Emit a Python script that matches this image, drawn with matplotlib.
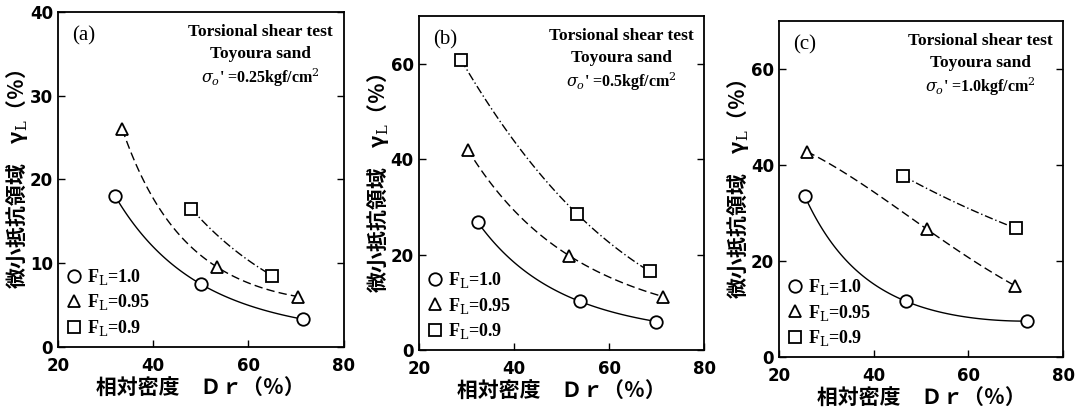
import numpy as np
import matplotlib.pyplot as plt
from matplotlib.lines import Line2D

plt.rcParams['font.family'] = ['Noto Sans CJK JP', 'DejaVu Sans']
plt.rcParams['mathtext.fontset'] = 'dejavuserif'

# panel data: (Dr, gamma_L) for F_L = 1.0, 0.95, 0.9
a_c_x = [32.0, 50.0, 71.5]
a_c_y = [18.0, 7.5, 3.3]
a_t_x = [33.5, 53.5, 70.5]
a_t_y = [26.0, 9.5, 6.0]
a_s_x = [48.0, 65.0]
a_s_y = [16.5, 8.5]

b_c_x = [32.4, 53.9, 69.9]
b_c_y = [26.8, 10.2, 6.0]
b_t_x = [30.3, 51.6, 71.4]
b_t_y = [42.0, 19.8, 11.2]
b_s_x = [28.9, 53.2, 68.5]
b_s_y = [60.8, 28.6, 16.5]

c_c_x = [25.4, 46.9, 72.4]
c_c_y = [33.6, 11.6, 7.5]
c_t_x = [25.9, 51.3, 69.8]
c_t_y = [42.8, 26.6, 14.9]
c_s_x = [46.1, 70.1]
c_s_y = [37.8, 26.8]

panels = [
    ('(a)', "0.25", 40, [0, 10, 20, 30, 40],
     [(a_c_x, a_c_y), (a_t_x, a_t_y), (a_s_x, a_s_y)],
     [0.0536, 0.156, 0.264, 0.815]),
    ('(b)', "0.5", 70, [0, 20, 40, 60],
     [(b_c_x, b_c_y), (b_t_x, b_t_y), (b_s_x, b_s_y)],
     [0.387, 0.148, 0.264, 0.813]),
    ('(c)', "1.0", 70, [0, 20, 40, 60],
     [(c_c_x, c_c_y), (c_t_x, c_t_y), (c_s_x, c_s_y)],
     [0.720, 0.131, 0.2625, 0.818]),
]

markers = ['o', '^', 's']
styles = ['-', (0, (6, 3)), (0, (6, 2, 1, 2))]
labels = ['F$_\\mathrm{L}$=1.0', 'F$_\\mathrm{L}$=0.95', 'F$_\\mathrm{L}$=0.9']
serif = ['Liberation Serif', 'DejaVu Serif']

fig = plt.figure(figsize=(10.82, 4.11), dpi=100)

for tag, sig, ymax, yticks, series, pos in panels:
    ax = fig.add_axes(pos)
    for (xs, ys), m, ls in zip(series, markers, styles):
        # smooth fit drawn in log space, so it flattens without dipping
        deg = min(2, len(xs) - 1)
        coef = np.polyfit(xs, np.log(ys), deg)
        xx = np.linspace(xs[0], xs[-1], 100)
        ax.plot(xx, np.exp(np.polyval(coef, xx)), color='black', lw=1.0,
                ls=ls)
        ax.plot(xs, ys, ls='none', marker=m, ms=9, mfc='white',
                mec='black', mew=1.3)
    ax.set_xlim(20, 80)
    ax.set_ylim(0, ymax)
    ax.set_xticks([20, 40, 60, 80])
    ax.set_yticks(yticks)
    ax.tick_params(direction='in', right=True, length=5, labelsize=12,
                   width=1)
    ax.tick_params(axis='x', pad=7)
    for t in ax.get_xticklabels() + ax.get_yticklabels():
        t.set_fontweight('bold')
        t.set_family(['DejaVu Sans'])
    for sp in ax.spines.values():
        sp.set_linewidth(1.3)

    ax.set_xlabel('相対密度　Ｄｒ（％）', fontsize=15, fontweight='bold',
                  labelpad=2)
    ax.set_ylabel('微小抵抗領域　γ$_\\mathrm{L}$（％）', fontsize=15,
                  fontweight='bold', labelpad=0)

    ax.text(0.05, 0.93, tag, transform=ax.transAxes, fontsize=15,
            family=serif, va='center')
    ax.text(0.71, 0.94, 'Torsional shear test', transform=ax.transAxes,
            fontsize=12.5, fontweight='bold', family=serif, ha='center',
            va='center')
    ax.text(0.71, 0.875, 'Toyoura sand', transform=ax.transAxes,
            fontsize=12.5, fontweight='bold', family=serif, ha='center',
            va='center')
    ax.text(0.71, 0.805, "$\\sigma_o$' =" + sig + 'kgf/cm$^2$',
            transform=ax.transAxes, fontsize=11.5, fontweight='bold',
            family=serif, ha='center', va='center')

    handles = [Line2D([], [], ls='none', marker=m, ms=9, mfc='white',
                      mec='black', mew=1.3) for m in markers]
    ax.legend(handles, labels, loc='lower left', frameon=False,
              handlelength=0.8, handletextpad=0.3, labelspacing=0.3,
              borderaxespad=0.1, prop={'family': serif, 'size': 13,
                                       'weight': 'bold'})

fig.savefig('out.png', dpi=100)
